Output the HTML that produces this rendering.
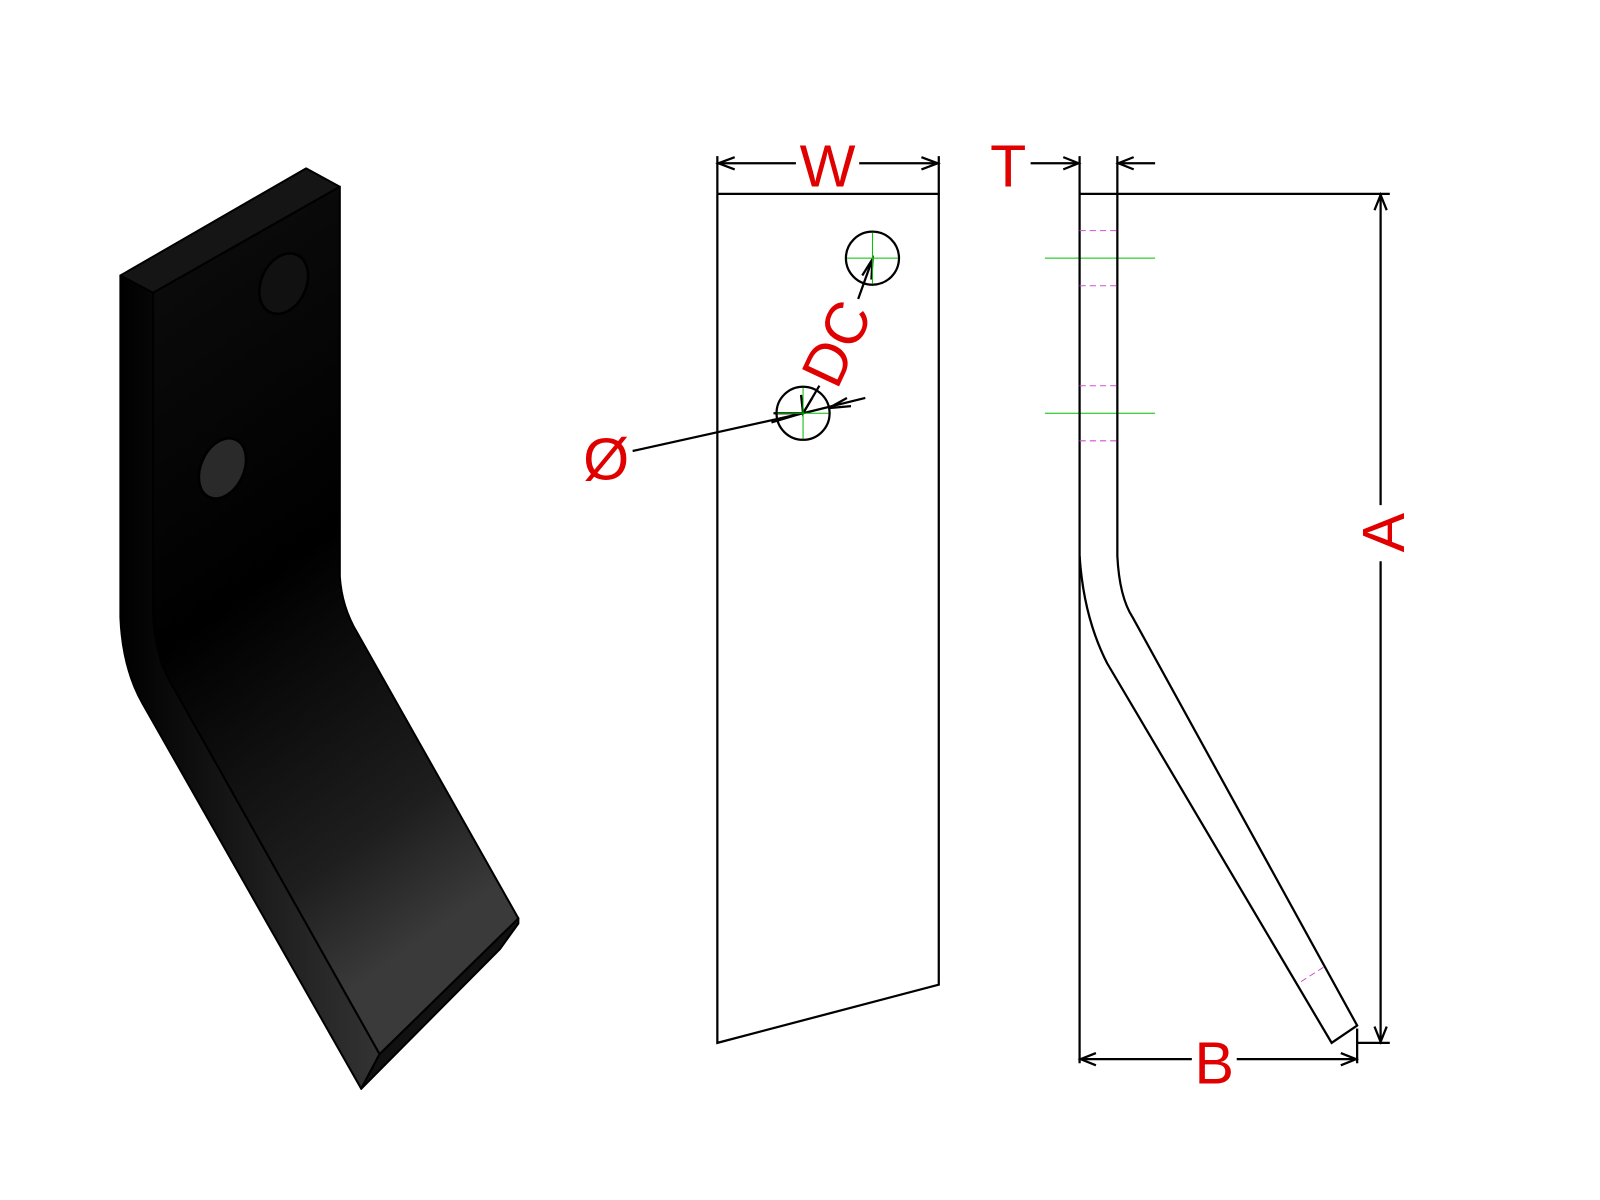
<!DOCTYPE html>
<html><head><meta charset="utf-8"><style>html,body{margin:0;padding:0;background:#fff}svg{display:block}</style></head>
<body>
<svg width="1600" height="1200" viewBox="0 0 1568 1176" xmlns="http://www.w3.org/2000/svg">
<defs>
<linearGradient id="gf" x1="0" y1="0" x2="0.3" y2="1">
<stop offset="0" stop-color="#2a2a2a"/><stop offset="0.12" stop-color="#0a0a0a"/><stop offset="0.5" stop-color="#000"/><stop offset="0.85" stop-color="#1e1e1e"/><stop offset="1" stop-color="#3a3a3a"/></linearGradient>
<linearGradient id="gs" x1="0" y1="0" x2="1" y2="0">
<stop offset="0" stop-color="#000"/><stop offset="0.5" stop-color="#1a1a1a"/><stop offset="1" stop-color="#333"/></linearGradient>
</defs>
<!-- 3D part -->
<g stroke="#000" stroke-width="2" stroke-linejoin="round">
<polygon points="118,270 300,165 333,183 150,287" fill="#151515"/>
<path d="M118,270 L150,287 L150,600 Q152,640 165,665 L372,1033 L354,1067 L140,690 Q120,655 118,605 Z" fill="url(#gs)"/>
<path d="M372,1033 L508,900 L508,905 L490,930 L354,1067 Z" fill="#111"/>
<path d="M150,287 L333,183 L333,565 Q335,595 350,620 L508,900 L372,1033 L165,665 Q152,640 150,600 Z" fill="url(#gf)"/>
<ellipse cx="278" cy="278" rx="22" ry="31" transform="rotate(25 278 278)" fill="#111" stroke-width="2.5"/>
<ellipse cx="218" cy="459" rx="21" ry="31" transform="rotate(25 218 459)" fill="#2a2a2a" stroke-width="2.5"/>
</g>
<!-- middle view -->
<g fill="none" stroke="#000" stroke-width="2.2">
<polyline points="703,190 920,190 920,965 703,1022 703,190"/>
<line x1="703" y1="153" x2="703" y2="190"/><line x1="920" y1="153" x2="920" y2="190"/>
<line x1="703" y1="160" x2="780" y2="160"/><line x1="842" y1="160" x2="920" y2="160"/>
<polyline points="720,154 704,160 720,166"/><polyline points="903,154 919,160 903,166"/>
<circle cx="855" cy="253" r="26"/><circle cx="787" cy="405" r="26"/>
<line x1="620" y1="442" x2="787" y2="405"/><line x1="787" y1="405" x2="848" y2="390"/>
<polyline points="758,405 786,405 756,414"/><polyline points="830,390 812,400 834,398"/>
<line x1="841" y1="293" x2="855" y2="254"/><polyline points="845,270 855,254 854,274"/>
<line x1="803" y1="378" x2="787" y2="405"/><polyline points="785,387 787,405 796,390"/>
</g>
<g stroke="#00c000" stroke-width="1"><line x1="830" y1="253" x2="880" y2="253"/><line x1="855" y1="228" x2="855" y2="278"/>
<line x1="762" y1="405" x2="812" y2="405"/><line x1="787" y1="380" x2="787" y2="430"/>
<line x1="1024" y1="253" x2="1132" y2="253"/><line x1="1024" y1="405" x2="1132" y2="405"/></g>
<!-- right view -->
<g fill="none" stroke="#000" stroke-width="2.2">
<line x1="1058" y1="153" x2="1058" y2="1042"/><line x1="1095" y1="153" x2="1095" y2="190"/>
<line x1="1058" y1="190" x2="1095" y2="190"/>
<path d="M1095,190 L1095,545 Q1097,585 1110,605 L1330,1005 L1305,1022 L1085,650 Q1062,605 1058,545"/>
<line x1="1010" y1="160" x2="1058" y2="160"/><polyline points="1042,154 1057,160 1042,166"/>
<line x1="1095" y1="160" x2="1132" y2="160"/><polyline points="1111,154 1096,160 1111,166"/>
<line x1="1095" y1="190" x2="1362" y2="190"/><line x1="1330" y1="1022" x2="1362" y2="1022"/>
<line x1="1353" y1="190" x2="1353" y2="495"/><line x1="1353" y1="550" x2="1353" y2="1022"/>
<polyline points="1347,206 1353,191 1359,206"/><polyline points="1347,1006 1353,1021 1359,1006"/>
<line x1="1330" y1="1008" x2="1330" y2="1042"/>
<line x1="1058" y1="1038" x2="1168" y2="1038"/><line x1="1212" y1="1038" x2="1330" y2="1038"/>
<polyline points="1074,1032 1059,1038 1074,1044"/><polyline points="1314,1032 1329,1038 1314,1044"/>
</g>
<g stroke="#d050d0" stroke-width="1" stroke-dasharray="6,4"><line x1="1058" y1="226" x2="1095" y2="226"/><line x1="1058" y1="280" x2="1095" y2="280"/><line x1="1058" y1="378" x2="1095" y2="378"/><line x1="1058" y1="432" x2="1095" y2="432"/><line x1="1275" y1="962" x2="1300" y2="946"/></g>
<g fill="#e00000" font-family="Liberation Sans, sans-serif" font-size="58" text-anchor="middle">
<text x="811" y="183">W</text>
<text x="988" y="183">T</text>
<text x="1190" y="1062">B</text>
<text x="594" y="470">Ø</text>
<text transform="translate(1376,522) rotate(-90)">A</text>
<text transform="translate(838,345) rotate(-65)">DC</text>
</g>
</svg>
</body></html>
